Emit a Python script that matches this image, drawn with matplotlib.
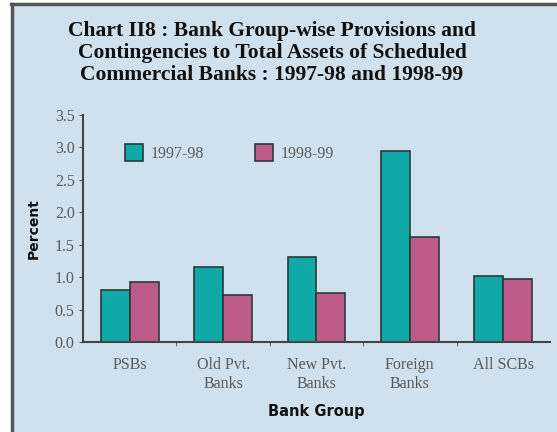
import matplotlib
matplotlib.use("Agg")
import matplotlib.pyplot as plt
import numpy as np
from matplotlib.patches import Rectangle

groups = ["PSBs", "Old Pvt.\nBanks", "New Pvt.\nBanks", "Foreign\nBanks", "All SCBs"]
y1997 = [0.80, 1.15, 1.31, 2.94, 1.01]
y1998 = [0.93, 0.72, 0.75, 1.62, 0.97]
yticks = [0.0, 0.5, 1.0, 1.5, 2.0, 2.5, 3.0, 3.5]

bg = "#cfe1ef"
teal = "#0fa9a8"
pink = "#bd5b8b"
edge = "#2b3a3a"

fig = plt.figure(figsize=(5.57, 4.32), dpi=100, facecolor="white")

# panel background with dark frame on left and top
fig.patches.append(Rectangle((11 / 557, 0), 1, 428 / 432, transform=fig.transFigure,
                             facecolor=bg, edgecolor="none", zorder=-10))
fig.add_artist(plt.Line2D([12 / 557, 12 / 557], [0, 428 / 432], transform=fig.transFigure,
                          color="#555555", lw=2.5))
fig.add_artist(plt.Line2D([11 / 557, 1], [428 / 432, 428 / 432], transform=fig.transFigure,
                          color="#555555", lw=2.5))

fig.text(272 / 557, 1 - 53 / 432,
         "Chart II8 : Bank Group-wise Provisions and\n"
         "Contingencies to Total Assets of Scheduled\n"
         "Commercial Banks : 1997-98 and 1998-99",
         ha="center", va="center", fontsize=15.5, fontweight="bold",
         family="Liberation Serif", linespacing=1.12, color="#111111")

ax = fig.add_axes([83 / 557, 90 / 432, 467 / 557, 227 / 432])
ax.set_facecolor("none")

x = np.arange(len(groups))
w = 0.31
ax.bar(x - w / 2, y1997, w, color=teal, edgecolor=edge, linewidth=1.2, label="1997-98")
ax.bar(x + w / 2, y1998, w, color=pink, edgecolor=edge, linewidth=1.2, label="1998-99")

ax.set_xlim(-0.5, len(groups) - 0.5)
ax.set_ylim(0, 3.5)
ax.set_yticks(yticks)
ax.set_yticklabels([f"{v:.1f}" for v in yticks], family="Liberation Serif",
                   fontsize=11.5, color="#5a5a5a")
ax.set_xticks(x)
ax.set_xticklabels(groups, family="Liberation Serif", fontsize=11.5, color="#5a5a5a",
                   linespacing=1.2)
ax.set_xticks(np.arange(0.5, len(groups) - 0.5, 1), minor=True)
ax.tick_params(axis="x", which="major", length=0, pad=11)
ax.tick_params(axis="x", which="minor", length=3, color="#555555", direction="out")
ax.tick_params(axis="y", length=3, color="#555555", pad=3)

for s in ["top", "right"]:
    ax.spines[s].set_visible(False)
for s in ["left", "bottom"]:
    ax.spines[s].set_color("#444444")
    ax.spines[s].set_linewidth(1.5)

ax.set_ylabel("Percent", fontweight="bold", fontsize=10, family="DejaVu Sans",
              labelpad=10, color="#111111")
ax.set_xlabel("Bank Group", fontweight="bold", fontsize=10.5, family="DejaVu Sans",
              labelpad=9, color="#111111")

ax.legend(loc="upper left", bbox_to_anchor=(0.06, 0.935), ncol=2, frameon=False,
          prop={"family": "Liberation Serif", "size": 11.5}, labelcolor="#5a5a5a",
          handlelength=1.1, handleheight=1.2, columnspacing=3.2, handletextpad=0.5)

fig.savefig("out.png", dpi=100, facecolor=fig.get_facecolor())
